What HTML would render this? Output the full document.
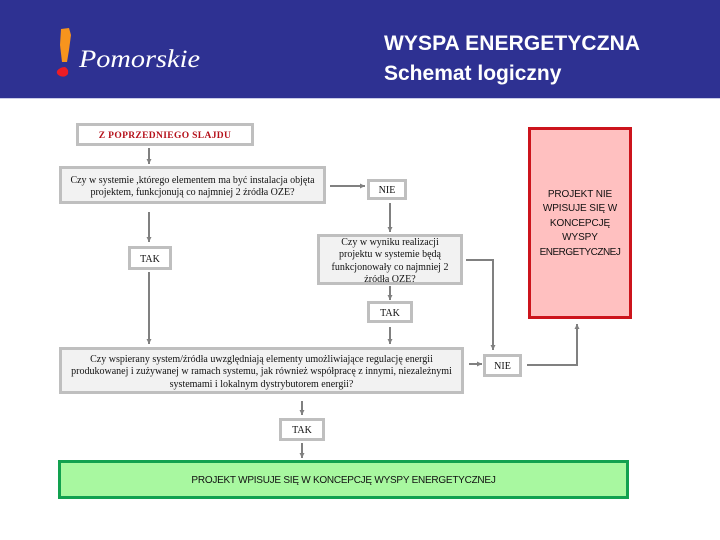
<!DOCTYPE html>
<html lang="pl"><head><meta charset="utf-8"><title>Wyspa energetyczna</title>
<style>
html,body{margin:0;padding:0;background:#fff}
#p{position:relative;width:720px;height:540px;overflow:hidden;background:#fff;font-family:"Liberation Serif",serif}
.hd{position:absolute;left:0;top:0;width:720px;height:98px;background:#2e3192;border-bottom:1px solid #c9cbe8}
.t{position:absolute;color:#fff;font:bold 21px/22px "Liberation Sans",sans-serif;white-space:nowrap}
.b{position:absolute;box-sizing:border-box;border:3px solid #bfbfbf;padding-top:4px;display:flex;align-items:center;justify-content:center;text-align:center;color:#111;font-size:10px;line-height:12.3px;background:#fff}
.g{background:#f2f2f2}
.c{font-family:"Liberation Sans",sans-serif;color:#111}
svg{position:absolute;left:0;top:0}
</style></head><body><div id="p">
<div class="hd"></div>
<svg width="720" height="99" viewBox="0 0 720 99">
<path d="M61 29 L69 28 L71 35 L69 50 L67 62 L62 62 L60 45Z" fill="#f7941d"/>
<path d="M57 71 Q60 67 65 67 Q69 69 68 74 Q65 78 60 76 Q56 74 57 71Z" fill="#ed1c24"/>
<text x="79" y="67" font-family="Liberation Serif" font-style="italic" font-size="25" fill="#fff" textLength="121" lengthAdjust="spacingAndGlyphs">Pomorskie</text>
</svg>
<div class="t" style="left:384px;top:33px;letter-spacing:.1px">WYSPA ENERGETYCZNA</div>
<div class="t" style="left:384px;top:63px">Schemat logiczny</div>

<div class="b" style="left:76px;top:123px;width:178px;height:23px;color:#b5121b;font-weight:bold;font-size:9.5px;letter-spacing:.35px">Z POPRZEDNIEGO SLAJDU</div>
<div class="b g" style="left:59px;top:166px;width:267px;height:38px">Czy w systemie ,którego elementem ma być instalacja objęta<br>projektem, funkcjonują co najmniej 2 źródła OZE?</div>
<div class="b" style="left:367px;top:179px;width:40px;height:21px">NIE</div>
<div class="b" style="left:128px;top:246px;width:44px;height:24px">TAK</div>
<div class="b g" style="left:317px;top:234px;width:146px;height:51px">Czy w wyniku realizacji<br>projektu w systemie będą<br>funkcjonowały co najmniej 2<br>źródła OZE?</div>
<div class="b" style="left:367px;top:301px;width:46px;height:22px">TAK</div>
<div class="b g" style="left:59px;top:347px;width:405px;height:47px">Czy wspierany system/źródła uwzględniają elementy umożliwiające regulację energii<br>produkowanej i zużywanej w ramach systemu, jak również współpracę z innymi, niezależnymi<br>systemami i lokalnym dystrybutorem energii?</div>
<div class="b" style="left:483px;top:354px;width:39px;height:23px">NIE</div>
<div class="b" style="left:279px;top:418px;width:46px;height:23px">TAK</div>
<div class="b c" style="left:528px;top:127px;width:104px;height:192px;border:3px solid #cc141c;background:#ffc0c0;font-size:10px;line-height:14.6px;padding-top:2px;letter-spacing:-.1px"><div style="white-space:nowrap">PROJEKT NIE<br>WPISUJE SIĘ W<br>KONCEPCJĘ<br>WYSPY<br><span style="letter-spacing:-.5px">ENERGETYCZNEJ</span></div></div>
<div class="b c" style="left:58px;top:460px;width:571px;height:39px;border:3px solid #12a14f;background:#a8f8a0;font-size:10px;letter-spacing:-.25px">PROJEKT WPISUJE SIĘ W KONCEPCJĘ WYSPY ENERGETYCZNEJ</div>

<svg width="720" height="540" viewBox="0 0 720 540" fill="none" stroke="#808080" stroke-width="2">
<defs><marker id="a" markerUnits="userSpaceOnUse" markerWidth="6" markerHeight="6" refX="5" refY="3" orient="auto"><path d="M0 .5L5 3L0 5.5Z" fill="#808080" stroke="none"/></marker></defs>
<g marker-end="url(#a)">
<path d="M149 148V164"/>
<path d="M149 212V242"/>
<path d="M330 186H365"/>
<path d="M390 203V232"/>
<path d="M149 272V344"/>
<path d="M390 286V300"/>
<path d="M390 327V344"/>
<path d="M466 260H493V350"/>
<path d="M469 364H482"/>
<path d="M527 365H577V324"/>
<path d="M302 401V415"/>
<path d="M302 443V458"/>
</g></svg>
</div></body></html>
